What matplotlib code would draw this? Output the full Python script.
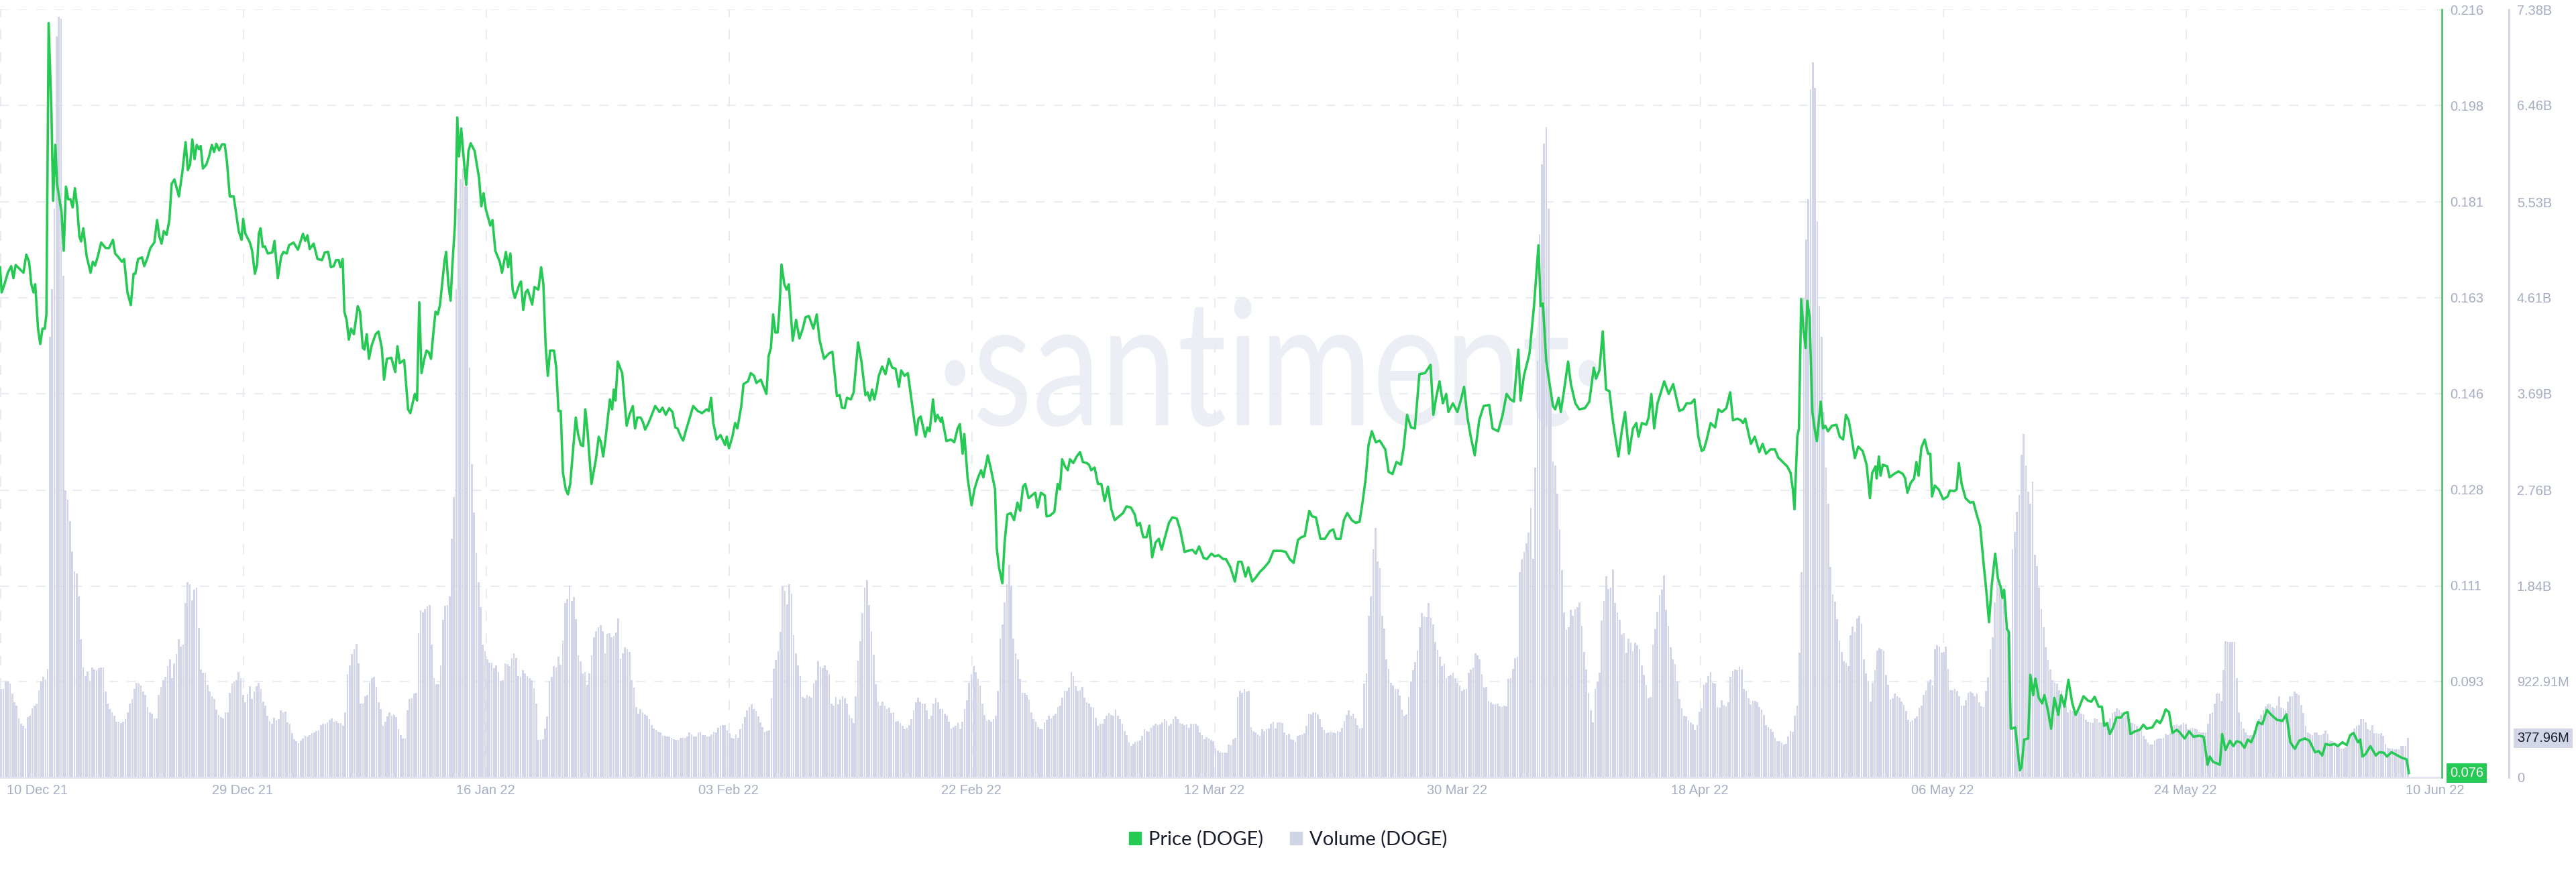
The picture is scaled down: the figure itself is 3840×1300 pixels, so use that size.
import matplotlib
matplotlib.use("Agg")
import matplotlib.pyplot as plt
from matplotlib.patches import Patch
from matplotlib.patheffects import AbstractPathEffect
from matplotlib.transforms import Affine2D
import numpy as np

# ---- Data: price readings as (hours since start, USD) ----
price_dec_feb = [(0,.1690),(3,.1644),(8,.1659),(14,.1680),(20,.1692),(24,.1670),(28,.1694),(36,.1686),(42,.1680),(47,.1713),(52,.1700),(56,.1659),(60,.1644),(63,.1659),(68,.1578),(72,.1550),(76,.1578),(80,.1578),(83,.1604),(87,.2135),(92,.1973),(95,.1811),(99,.1913),(102,.1842),(110,.1791),(114,.1720),(118,.1837),(122,.1814),(126,.1814),(130,.1799),(134,.1834),(138,.1801),(142,.1746),(145,.1737),(149,.1761),(155,.1710),(162,.1680),(166,.1700),(170,.1693),(175,.1710),(181,.1735),(189,.1725),(195,.1725),(202,.1740),(206,.1715),(212,.1708),(218,.1700),(222,.1705),(228,.1644),(234,.1621),(239,.1678),(242,.1678),(247,.1705),(254,.1708),(258,.1692),(263,.1705),(269,.1725),(276,.1735),(281,.1776),(285,.1746),(289,.1733),(293,.1756),(298,.1749),(303,.1776),(307,.1842),(312,.1850),(320,.1819),(326,.1862),(332,.1918),(336,.1867),(340,.1877),(344,.1923),(348,.1887),(352,.1913),(356,.1905),(359,.1911),(363,.1870),(369,.1877),(374,.1892),(379,.1913),(383,.1900),(387,.1915),(392,.1903),(397,.1914),(402,.1914),(406,.1882),(411,.1819),(418,.1819),(427,.1756),(432,.1740),(435,.1778),(439,.1751),(447,.1735),(451,.1720),(456,.1678),(460,.1695),(463,.1751),(466,.1761),(470,.1727),(474,.1728),(479,.1715),(487,.1717),(491,.1738),(497,.1670),(503,.1710),(507,.1718),(513,.1715),(517,.1730),(525,.1735),(533,.1722),(542,.1751),(546,.1738),(550,.1748),(554,.1723),(561,.1733),(568,.1705),(576,.1703),(581,.1717),(587,.1718),(592,.1690),(597,.1692),(601,.1703),(606,.1703),(609,.1690),(613,.1705),(616,.1609),(620,.1594),(624,.1558),(628,.1578),(633,.1568),(640,.1619),(644,.1609),(649,.1543),(652,.1540),(656,.1568),(660,.1523),(665,.1548),(672,.1568),(677,.1573),(683,.1543),(687,.1485),(692,.1523),(700,.1525),(707,.1499),(711,.1546),(715,.1515),(723,.1521),(730,.1431),(734,.1424),(742,.1459),(746,.1447),(750,.1626),(754,.1497),(759,.1523),(763,.1538),(767,.1535),(771,.1523),(775,.1568),(779,.1609),(783,.1604),(787,.1621),(795,.1700),(798,.1718),(802,.1659),(806,.1629),(809,.1690),(814,.1771),(818,.1963),(821,.1892),(825,.1943),(830,.1882),(834,.1840),(838,.1902),(842,.1916),(849,.1902),(857,.1852),(861,.1801),(865,.1825),(869,.1796),(877,.1766),(881,.1776),(886,.1720),(894,.1700),(898,.1680),(905,.1718),(909,.1690),(913,.1715),(917,.1649),(921,.1634),(929,.1659),(932,.1664),(936,.1612),(940,.1644),(944,.1649),(952,.1622),(956,.1654),(963,.1649),(968,.1690),(972,.1659),(976,.1548),(980,.1492),(984,.1538),(991,.1538),(995,.1507),(999,.1428),(1003,.1428),(1007,.1315),(1012,.1285),(1016,.1276),(1020,.1295),(1030,.1416),(1034,.1386),(1039,.1366),(1043,.1364),(1047,.1431),(1051,.1391),(1058,.1295),(1066,.1340),(1071,.1381),(1075,.1371),(1079,.1345),(1083,.1376),(1091,.1449),(1095,.1431),(1098,.1467),(1101,.1447),(1105,.1518),(1113,.1497),(1121,.1401),(1126,.1421),(1132,.1437),(1136,.1396),(1140,.1416),(1146,.1416),(1150,.1408),(1154,.1394),(1160,.1406),(1166,.1421),(1172,.1437),(1180,.1426),(1185,.1434),(1191,.1421),(1197,.1433),(1203,.1426),(1208,.1398),(1212,.1396),(1218,.1381),(1222,.1374),(1228,.1396),(1234,.1416),(1240,.1437),(1248,.1428),(1256,.1424),(1264,.1431),(1268,.1428),(1272,.1452),(1276,.1406),(1282,.1376),(1289,.1384),(1297,.1366),(1300,.1381),(1304,.1360),(1310,.1381),(1315,.1406),(1319,.1396),(1326,.1437),(1330,.1477),(1338,.1482),(1343,.1497),(1349,.1492),(1353,.1479),(1361,.1485),(1371,.1459),(1375,.1528),(1379,.1543),(1383,.1604),(1387,.1571),(1391,.1571),(1394,.1609),(1398,.1695),(1403,.1659),(1407,.1649),(1411,.1659),(1418,.1556),(1424,.1594),(1430,.1560),(1436,.1578),(1441,.1599),(1447,.1601),(1455,.1578),(1461,.1604),(1466,.1558),(1474,.1523),(1483,.1533),(1489,.1536),(1494,.1487),(1497,.1455),(1502,.1457),(1506,.1434),(1511,.1433),(1515,.1452),(1522,.1449),(1527,.1462),(1535,.1553)]
price_feb_apr = [(1541,.1518),(1548,.1457),(1552,.1462),(1556,.1447),(1560,.1467),(1564,.1449),(1568,.1467),(1572,.1492),(1578,.1509),(1584,.1495),(1590,.1523),(1596,.1507),(1602,.1505),(1608,.1472),(1612,.1502),(1618,.1492),(1624,.1497),(1628,.1467),(1634,.1421),(1639,.1384),(1643,.1414),(1647,.1418),(1655,.1381),(1659,.1398),(1663,.1391),(1669,.1449),(1673,.1409),(1677,.1421),(1683,.1408),(1685,.1416),(1693,.1373),(1701,.1376),(1707,.1371),(1713,.1396),(1717,.1404),(1722,.1350),(1725,.1386),(1731,.1305),(1738,.1256),(1743,.1285),(1749,.1305),(1755,.1320),(1759,.1307),(1767,.1347),(1773,.1320),(1780,.1285),(1783,.1178),(1787,.1143),(1793,.1114),(1797,.1188),(1802,.1239),(1808,.1242),(1814,.1229),(1820,.1261),(1825,.1246),(1830,.1290),(1834,.1295),(1840,.1269),(1848,.1276),(1852,.1279),(1856,.1252),(1862,.1279),(1869,.1274),(1872,.1236),(1878,.1237),(1886,.1244),(1892,.1295),(1896,.1285),(1900,.1340),(1905,.1327),(1910,.1320),(1914,.1340),(1920,.1333),(1926,.1345),(1932,.1353),(1937,.1335),(1944,.1333),(1948,.1330),(1952,.1320),(1958,.1325),(1964,.1295),(1970,.1295),(1976,.1264),(1982,.1290),(1988,.1249),(1994,.1229),(2002,.1236),(2009,.1242),(2015,.1254),(2023,.1252),(2030,.1239),(2034,.1219),(2039,.1224),(2045,.1198),(2051,.1198),(2056,.1219),(2061,.1161),(2067,.1188),(2073,.1195),(2078,.1175),(2084,.1198),(2091,.1224),(2097,.1234),(2105,.1232),(2111,.1212),(2119,.1171),(2125,.1173),(2133,.1175),(2139,.1168),(2145,.1181),(2153,.1160),(2159,.1158),(2167,.1168),(2173,.1163),(2180,.1165),(2188,.1158),(2193,.1158),(2201,.1143),(2209,.1117),(2215,.1153),(2221,.1153),(2228,.1126),(2233,.1143),(2240,.1117),(2246,.1124),(2254,.1135),(2262,.1143),(2270,.1153),(2278,.1173),(2284,.1173),(2292,.1173),(2300,.1171),(2307,.1158),(2314,.1151),(2322,.1193),(2328,.1198),(2334,.1200),(2342,.1246),(2347,.1236),(2354,.1234),(2362,.1195),(2370,.1195),(2379,.1209),(2385,.1212),(2390,.1195),(2398,.1195),(2404,.1229),(2410,.1242),(2418,.1229),(2425,.1224),(2432,.1226),(2437,.1259),(2443,.1305),(2448,.1366),(2454,.1391),(2461,.1371),(2468,.1374),(2478,.1358),(2484,.1317),(2491,.1313),(2498,.1335),(2506,.1330),(2511,.1361),(2517,.1421),(2524,.1398),(2531,.1396),(2539,.1495),(2549,.1497),(2559,.1512),(2564,.1421),(2569,.1452),(2575,.1482),(2581,.1442),(2587,.1459),(2591,.1426),(2599,.1442),(2607,.1426),(2613,.1447),(2619,.1472),(2625,.1416),(2631,.1381),(2638,.1347),(2646,.1411),(2654,.1437),(2664,.1439),(2670,.1396),(2680,.1391),(2688,.1421),(2695,.1459),(2702,.1449),(2708,.1445),(2716,.1540),(2720,.1447),(2726,.1492),(2736,.1533),(2744,.1619),(2752,.1730),(2756,.1619),(2760,.1624),(2766,.1518),(2772,.1477),(2778,.1437),(2782,.1431),(2788,.1452),(2792,.1426),(2798,.1467),(2805,.1518),(2810,.1477),(2818,.1442),(2825,.1431),(2835,.1433),(2843,.1445),(2851,.1507),(2855,.1487),(2861,.1502),(2867,.1573),(2873,.1467),(2879,.1464),(2885,.1411),(2895,.1345),(2901,.1391),(2907,.1426),(2914,.1350),(2921,.1396),(2927,.1406),(2931,.1381),(2937,.1406),(2945,.1403),(2949,.1416),(2954,.1459),(2959,.1396),(2965,.1442),(2977,.1482),(2985,.1459),(2993,.1477),(3004,.1428),(3011,.1431),(3017,.1442),(3025,.1442),(3031,.1449),(3038,.1381),(3044,.1355)]
price_apr_jun = [(3048,.1358),(3053,.1376),(3060,.1406),(3068,.1398),(3074,.1431),(3080,.1426),(3088,.1433),(3095,.1462),(3100,.1411),(3108,.1414),(3114,.1411),(3118,.1406),(3122,.1414),(3132,.1368),(3139,.1381),(3147,.1353),(3153,.1368),(3159,.1350),(3167,.1358),(3175,.1358),(3181,.1343),(3189,.1335),(3197,.1327),(3203,.1315),(3207,.1285),(3210,.1249),(3215,.1381),(3218,.1396),(3222,.1632),(3226,.1578),(3230,.1543),(3233,.1629),(3237,.1599),(3242,.1426),(3246,.1396),(3250,.1373),(3257,.1445),(3261,.1396),(3265,.1401),(3270,.1391),(3277,.1401),(3285,.1403),(3291,.1381),(3297,.1376),(3302,.1421),(3307,.1411),(3312,.1381),(3318,.1342),(3324,.1363),(3332,.1355),(3339,.1330),(3345,.1269),(3349,.1315),(3355,.1327),(3357,.1305),(3361,.1345),(3364,.1310),(3368,.1330),(3376,.1327),(3380,.1307),(3388,.1313),(3396,.1318),(3404,.1313),(3408,.1305),(3412,.1279),(3418,.1297),(3424,.1305),(3428,.1335),(3432,.1310),(3437,.1361),(3443,.1376),(3449,.1350),(3453,.1350),(3456,.1272),(3461,.1292),(3468,.1285),(3476,.1267),(3484,.1272),(3488,.1283),(3496,.1282),(3500,.1285),(3504,.1333),(3509,.1295),(3516,.1269),(3524,.1261),(3530,.1262),(3536,.1239),(3542,.1219),(3548,.1153),(3553,.1102),(3558,.1043),(3563,.1112),(3569,.1168),(3574,.1122),(3579,.1107),(3582,.1087),(3585,.1102),(3590,.1031),(3593,.1026),(3597,.0849),(3605,.0851),(3613,.0773),(3616,.0778),(3621,.0829),(3628,.0831),(3632,.0947),(3637,.0910),(3641,.0940),(3647,.0905),(3653,.0895),(3657,.0910),(3663,.0884),(3669,.0849),(3675,.0905),(3682,.0874),(3687,.0910),(3693,.0889),(3700,.0938),(3707,.0895),(3713,.0874),(3719,.0887),(3727,.0908),(3735,.0900),(3741,.0898),(3747,.0907),(3754,.0889),(3760,.0889),(3764,.0854),(3769,.0859),(3774,.0839),(3780,.0851),(3786,.0869),(3794,.0869),(3800,.0877),(3806,.0879),(3811,.0839),(3819,.0844),(3828,.0847),(3834,.0856),(3840,.0849),(3850,.0851),(3858,.0864),(3864,.0859),(3868,.0867),(3874,.0884),(3880,.0879),(3886,.0841),(3894,.0847),(3900,.0841),(3908,.0831),(3916,.0844),(3924,.0834),(3934,.0836),(3942,.0834),(3949,.0783),(3953,.0798),(3959,.0788),(3965,.0786),(3971,.0783),(3975,.0839),(3981,.0810),(3989,.0827),(3995,.0817),(4001,.0826),(4008,.0824),(4015,.0814),(4021,.0829),(4027,.0824),(4033,.0839),(4039,.0861),(4047,.0857),(4055,.0883),(4063,.0874),(4073,.0865),(4083,.0863),(4090,.0875),(4097,.0824),(4105,.0812),(4113,.0827),(4123,.0831),(4131,.0827),(4141,.0806),(4148,.0808),(4154,.0800),(4160,.0821),(4168,.0819),(4176,.0821),(4182,.0817),(4190,.0824),(4198,.0819),(4204,.0837),(4210,.0841),(4218,.0824),(4222,.0829),(4226,.0798),(4232,.0803),(4240,.0817),(4250,.0800),(4256,.0806),(4264,.0805),(4270,.0798),(4278,.0806),(4287,.0801),(4296,.0796),(4305,.0793),(4309,.0768)]

# ---- Data: volume in millions, one value per bar ----
vol_part1 = [848,848,923,923,901,805,719,687,569,515,494,472,579,590,665,687,708,837,923,966,944,1041,4235,4690,5464,7120,7307,7290,4823,2760,2670,2460,2170,1980,1960,1740,1330,1055,975,1020,925,1055,1040,1030,1050,1058,1055,826,708,655,627,595,537,532,521,532,562,622,708,751,848,912,901,886,826,794,676,622,612,569,569,794,869,933,966,1073,1137,955,1094,1188,1330,1255,1277,1678,1873,1856,1700,1803,1824,1438,1040,1008,1004,891,826,783,751,648,601,579,569,622,622,815,905,923,933,1013,951,790,719,798,875,751,826,875,912,848,730,687,594,541,515,575,547,562,644,627,633,526,515,425,369,348,326,354,376,397,390,408,425,433,446,451,504,515,515,526,554,564,537,541,521,519,494,622,991,1079,1185,1234,1281,1094,712,708,783,790,912,955,970,869,719,655,494,532,584,627,590,601,579,461,408]
vol_part2 = [375,375,644,751,762,805,815,1384,1605,1588,1620,1641,1659,1277,955,895,895,1077,1513,1648,1657,1743,2296,2693,4690,5464,5750,5850,5677,5677,3940,3007,2543,2157,1878,1635,1277,1212,1133,1099,1105,1052,1079,1009,927,933,1094,1088,1069,1148,1195,1148,976,966,1030,998,976,955,933,858,708,361,361,365,468,586,929,970,1073,1056,1163,1082,1313,1674,1717,1846,1695,1732,1524,1170,1116,1002,1009,891,998,1170,1348,1406,1444,1466,1406,1195,1380,1384,1346,1358,1391,1528,1142,1195,1251,1230,1206,933,865,676,612,655,627,607,590,558,504,472,457,436,429,397,397,393,391,380,365,361,361,382,382,382,393,429,412,393,395,433,440,408,408,393,393,412,440,433,479,498,500,500,451,423,380,376,414,380,461,515,579,644,676,704,655,640,586,526,483,440,446,451,758,1045,1131,1212,1399,1835,1792,1663,1856,1764,1369,1191,1077,972,773]
vol_part3 = [762,794,777,766,901,933,1116,1062,1052,1077,1034,991,708,687,773,704,747,777,762,708,601,569,521,777,1122,1309,1577,1824,1893,1659,1406,1180,895,730,687,730,687,655,672,618,622,537,541,521,498,466,479,504,558,644,719,766,730,712,712,644,562,590,708,762,719,655,655,612,590,537,472,483,494,526,461,537,655,740,912,991,1073,1013,949,880,712,597,543,554,537,562,590,831,1337,1470,1685,1856,2043,1846,1335,1195,1133,949,809,815,790,745,622,562,532,483,461,461,526,554,590,564,590,612,676,691,768,831,831,863,1015,972,876,831,841,873,768,725,708,676,670,575,494,515,515,562,590,616,601,590,648,594,558,515,446,408,333,300,322,339,348,354,397,461,446,440,476,494,515,500,511,530,562,543,494,515,558,584,558,521,515,500,509,476,515,515,515,494,433,408,369,386]
vol_part4 = [376,361,348,279,258,240,236,240,240,318,311,369,380,773,831,809,848,822,833,483,444,429,412,397,461,446,461,472,515,532,472,526,526,521,429,408,418,365,361,343,397,408,414,423,494,612,605,627,622,607,562,483,455,425,429,438,429,425,444,436,476,541,601,644,590,612,569,504,468,476,901,998,1556,1738,2189,2399,2075,2011,1552,1434,1137,1041,906,880,854,854,788,648,590,607,773,923,1034,1110,1219,1442,1582,1549,1541,1678,1534,1470,1303,1223,1163,1073,1094,951,976,987,1004,951,912,880,833,843,848,1004,1036,1056,1195,1176,1137,993,865,869,734,719,704,702,712,680,676,687,682,949,955,1045,1148,1163,1970,2097,2163,2249,2350,2593,2099,2980,4000,5224,5891,6089,6249,5464,3728,3034,3000,2725,2382,1989,1588,1416,1442,1609,1556,1620,1635,1680,1459,1206,1036,809,644,526,848,923,1004,1509,1695,1931,1813,1824]
vol_part5 = [1996,1674,1584,1513,1373,1388,1202,1337,1298,1212,1294,1270,1234,1077,987,891,762,773,1277,1427,1594,1755,1803,1942,1614,1459,1251,1137,1088,923,755,665,594,584,547,530,511,457,504,633,661,891,912,976,1015,906,901,676,670,740,693,680,719,966,1026,1036,1034,1062,1036,848,831,758,704,736,736,719,676,648,601,500,483,466,440,380,348,348,333,318,322,393,446,436,594,691,1202,1974,4610,5170,5555,6612,6869,6623,5341,4530,4236,3515,2980,2629,2022,1760,1691,1524,1315,1206,1116,1105,1069,1369,1449,1399,1528,1552,1474,1137,1002,929,730,912,1034,1217,1245,1228,1217,987,891,745,758,805,783,768,730,697,640,554,532,547,564,584,670,687,794,837,918,938,880,1228,1270,1255,1202,1208,1260,1045,837,837,852,831,777,691,691,740,815,822,815,777,805,723,682,676,831,959,1234,1348,1680,1888,1910,1717,1710,1440,1350,1400,2189]
vol_part6 = [2360,2554,2714,3100,3300,3000,2747,2629,2843,2142,2028,1824,1616,1442,1249,1127,1036,933,906,901,837,833,730,687,622,648,640,633,622,633,612,605,554,537,526,519,569,558,526,530,521,526,536,569,618,633,661,648,622,579,590,579,526,519,515,494,472,451,397,365,333,315,315,354,369,376,376,380,418,408,425,433,504,511,494,511,530,511,461,472,479,472,461,440,429,429,433,515,612,622,708,805,805,736,1030,1309,1305,1305,1303,1305,955,622,532,472,433,408,408,408,451,494,558,601,644,682,704,704,676,661,691,777,670,665,644,730,779,779,826,805,794,697,618,498,433,418,408,429,433,408,408,418,451,418,354,348,333,311,290,279,279,290,311,354,429,472,494,500,562,562,526,461,451,504,423,423,418,423,397,322,283,279,275,273,273,273,300,305,305,378]

price_ticks = [.216,.1985,.181,.1635,.146,.1285,.111,.0935]
price_tick_labels = ['0.216','0.198','0.181','0.163','0.146','0.128','0.111','0.093']
volume_ticks = [7380,6460,5530,4610,3690,2760,1840,922.91,0]
volume_tick_labels = ['7.38B','6.46B','5.53B','4.61B','3.69B','2.76B','1.84B','922.91M','0']
date_labels = ['10 Dec 21','29 Dec 21','16 Jan 22','03 Feb 22','22 Feb 22','12 Mar 22','30 Mar 22','18 Apr 22','06 May 22','24 May 22','10 Jun 22']
label_hours = [66,434.4,868.8,1303.2,1737.6,2172,2606.4,3040.8,3475.2,3909.6,4356]
grid_hours = [0,434.4,868.8,1303.2,1737.6,2172,2606.4,3040.8,3475.2,3909.6]
LAST_DATA_HOUR = 4309
LAST_PRICE = '0.076'
LAST_VOLUME = '377.96M'

# ---- Style ----
GREEN = '#26c953'
BAR = '#d2d6e8'
TICK = '#a5adc3'
GRID = '#e9ebf2'
INK = '#1a1d2e'
W, H = 3840, 1300


class HorizontalSqueeze(AbstractPathEffect):
    """Narrow a text horizontally about a given pixel x."""
    def __init__(self, x0, factor):
        super().__init__()
        self.x0, self.factor = x0, factor

    def draw_path(self, renderer, gc, tpath, affine, rgbFace=None):
        squeeze = Affine2D().translate(-self.x0, 0).scale(self.factor, 1).translate(self.x0, 0)
        renderer.draw_path(gc, tpath, affine + squeeze, rgbFace)


price_pairs = price_dec_feb + price_feb_apr + price_apr_jun
price_hours = np.array([a for a, _ in price_pairs], dtype=float)
price_usd = np.array([b for _, b in price_pairs])
volume = np.array(vol_part1 + vol_part2 + vol_part3 + vol_part4 + vol_part5 + vol_part6, dtype=float)
bar_step = LAST_DATA_HOUR / len(volume)
bar_hours = (np.arange(len(volume)) + 0.5) * bar_step

plt.rcParams['font.family'] = ['Liberation Sans', 'DejaVu Sans']
fig = plt.figure(figsize=(W / 100, H / 100), dpi=100, facecolor='white')
rect = [0, (H - 1159) / H, 3640 / W, 1145 / H]

ax_vol = fig.add_axes(rect)
ax_vol.set_zorder(1)
ax_vol.set_xlim(0, 4368)
ax_vol.set_ylim(0, 7380)
ax_price = ax_vol.twinx()
ax_price.set_zorder(2)
ax_price.patch.set_visible(False)
ax_price.set_ylim(0.076, 0.216)

# Watermark
wm = ax_vol.text(1397 / W, (H - 634) / H, '\u00b7santiment\u00b7', transform=fig.transFigure,
                 family='Lato', fontsize=189, color='#eceef6',
                 ha='left', va='baseline', zorder=0)
wm.set_path_effects([HorizontalSqueeze(1397, 0.78)])

# Grid
for v in volume_ticks[:-1]:
    ax_vol.axhline(v, color=GRID, lw=1.5, dashes=(6.5, 6.5), zorder=1)
for h in grid_hours:
    ax_vol.axvline(h + 1, color=GRID, lw=1.5, dashes=(7, 9), zorder=1)

# Marks
ax_vol.bar(bar_hours, volume, width=bar_step * 0.8, color=BAR, zorder=2, linewidth=0)
ax_price.plot(price_hours, price_usd, color=GREEN, lw=2.6, solid_joinstyle='round', zorder=3, clip_on=False)

# Axes
for s in ax_vol.spines.values():
    s.set_visible(False)
for s in ax_price.spines.values():
    s.set_visible(False)
ax_vol.spines['bottom'].set_visible(True)
ax_vol.spines['bottom'].set_color('#e2e5ef')
ax_vol.spines['bottom'].set_linewidth(2)
ax_price.spines['right'].set_visible(True)
ax_price.spines['right'].set_color('#3bb862')
ax_price.spines['right'].set_linewidth(1.8)
ax_vol.spines['right'].set_visible(True)
ax_vol.spines['right'].set_position(('outward', 72))
ax_vol.spines['right'].set_color('#d0d3e0')
ax_vol.spines['right'].set_linewidth(2)

ax_vol.set_xticks(label_hours, date_labels)
ax_vol.tick_params(axis='x', length=0, pad=7, labelsize=14.4, labelcolor=TICK)
ax_vol.yaxis.tick_right()
ax_vol.set_yticks(volume_ticks, volume_tick_labels)
ax_vol.tick_params(axis='y', length=0, pad=8.6, labelsize=14.4, labelcolor=TICK, right=False, labelright=True, left=False, labelleft=False)
ax_price.set_yticks(price_ticks, price_tick_labels)
ax_price.tick_params(axis='y', length=0, pad=8.6, labelsize=14.4, labelcolor=TICK)

# Last-value tags
ax_price.text(3652 / 3640, 0.0768, LAST_PRICE, transform=ax_price.get_yaxis_transform(),
              color='white', fontsize=14.4, ha='left', va='center', clip_on=False, zorder=5,
              bbox=dict(boxstyle='square,pad=0.24', fc=GREEN, ec='none'))
ax_vol.text(3752 / 3640, 377.96, LAST_VOLUME, transform=ax_vol.get_yaxis_transform(),
            color=INK, fontsize=14.4, ha='left', va='center', clip_on=False, zorder=5,
            bbox=dict(boxstyle='square,pad=0.24', fc='#d3d6e6', ec='none'))

# Legend
handles = [Patch(color=GREEN, label='Price (DOGE)'), Patch(color='#cfd3e6', label='Volume (DOGE)')]
fig.legend(handles=handles, loc='center', bbox_to_anchor=(1920 / W, (H - 1251) / H), ncol=2,
           frameon=False, prop={'family': 'Lato', 'size': 21}, labelcolor=INK,
           handlelength=0.62, handleheight=0.62, handletextpad=0.38, columnspacing=1.35,
           borderpad=0, borderaxespad=0)

fig.savefig('out.png', dpi=100)
